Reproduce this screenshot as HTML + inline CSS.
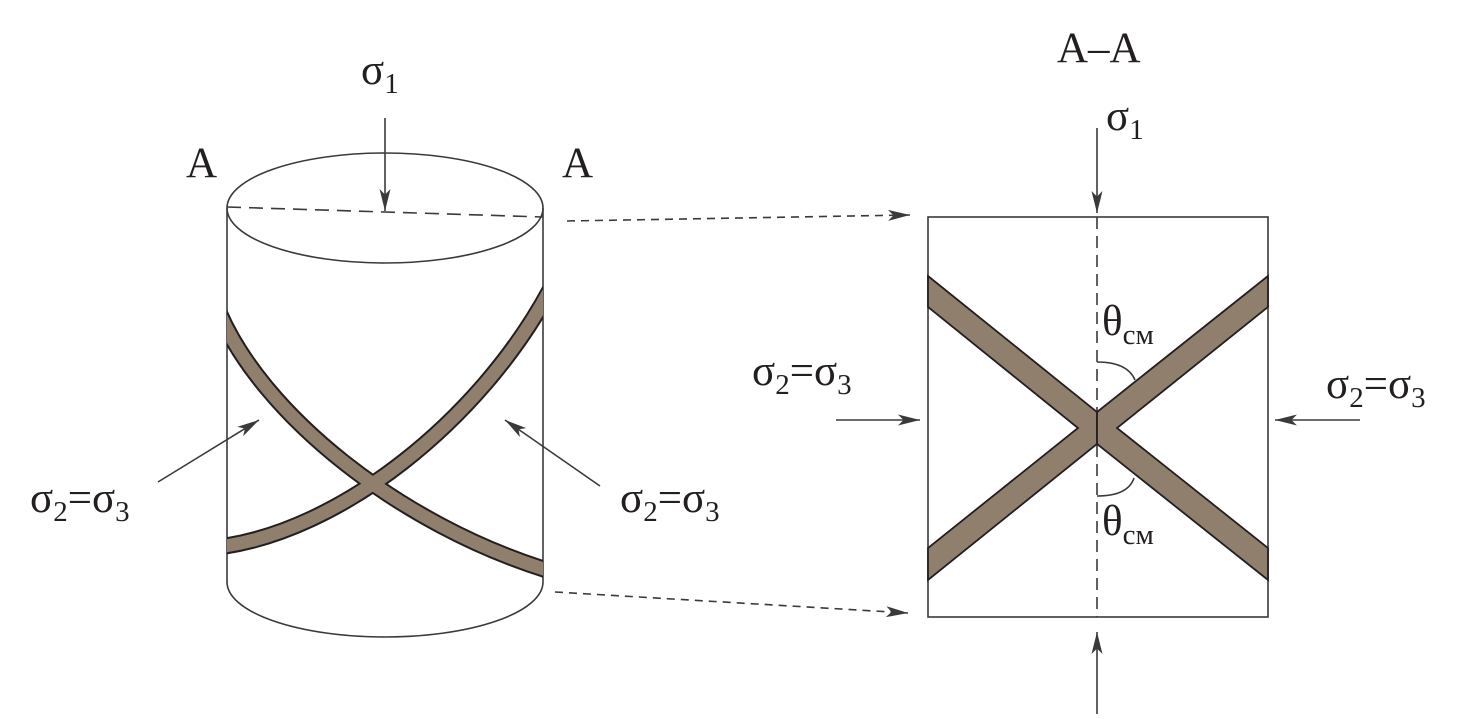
<!DOCTYPE html>
<html><head><meta charset="utf-8"><style>
html,body{margin:0;padding:0;background:#fff;}
svg{display:block;}
text{font-family:"Liberation Serif",serif;fill:#231f20;}
</style></head><body>
<svg width="1465" height="719" viewBox="0 0 1465 719" xmlns="http://www.w3.org/2000/svg">
<defs>
<marker id="ah" viewBox="0 0 20 10" refX="20" refY="5" markerWidth="22" markerHeight="11" markerUnits="userSpaceOnUse" orient="auto">
<path d="M0,0 L20,5 L0,10 L5,5 Z" fill="#3a3a3a"/>
</marker>
<clipPath id="cyl"><rect x="227" y="200" width="316" height="400"/></clipPath>
</defs>
<g stroke="#3a3a3a" stroke-width="1.6" fill="none">
<ellipse cx="385" cy="208" rx="158" ry="55" fill="#fff"/>
<line x1="227" y1="208" x2="227" y2="582"/>
<line x1="543" y1="208" x2="543" y2="582"/>
<path d="M227,582 A158,55 0 0 0 543,582"/>
<line x1="227" y1="207" x2="543" y2="217" stroke-dasharray="14,8"/>
</g>
<g clip-path="url(#cyl)" fill="none">
<path d="M218,310 C262,415 400,525 550,571" stroke="#231f20" stroke-width="17"/>
<path d="M218,547 C340,532 480,420 550,290" stroke="#231f20" stroke-width="17"/>
<path d="M218,310 C262,415 400,525 550,571" stroke="#8f7f6c" stroke-width="13"/>
<path d="M218,547 C340,532 480,420 550,290" stroke="#8f7f6c" stroke-width="13"/>
</g>
<g stroke="#3a3a3a" stroke-width="1.6" fill="none">
<line x1="385" y1="118" x2="385" y2="211" marker-end="url(#ah)"/>
<line x1="158" y1="482" x2="259" y2="420" marker-end="url(#ah)"/>
<line x1="600" y1="486" x2="505" y2="420" marker-end="url(#ah)"/>
<line x1="567" y1="221" x2="910" y2="215" stroke-dasharray="8,6" marker-end="url(#ah)"/>
<line x1="555" y1="592" x2="908" y2="613" stroke-dasharray="8,6" marker-end="url(#ah)"/>
<rect x="928" y="217" width="340" height="400" fill="#fff"/>
<line x1="1097" y1="217" x2="1097" y2="617" stroke-dasharray="12,7"/>
<line x1="1097" y1="128" x2="1097" y2="213" marker-end="url(#ah)"/>
<line x1="1097" y1="714" x2="1097" y2="632" marker-end="url(#ah)"/>
<line x1="836" y1="420" x2="920" y2="420" marker-end="url(#ah)"/>
<line x1="1360" y1="420" x2="1275" y2="420" marker-end="url(#ah)"/>
<path d="M1097,362 C1118,362 1130,368 1135,380"/>
<path d="M1097,496 C1118,496 1130,490 1134,478"/>
</g>
<g fill="#8f7f6c" stroke="#231f20" stroke-width="1.8" stroke-linejoin="miter">
<polygon points="928,276 1097,412 1097,444 928,580 928,548 1078,428 928,307"/>
<polygon points="1268,276 1097,412 1097,444 1268,580 1268,548 1117,428 1268,307"/>
</g>
<g font-size="43">
<text x="361" y="84">σ<tspan font-size="29" dy="9">1</tspan></text>
<text x="186" y="177">A</text>
<text x="562" y="177">A</text>
<text x="30" y="512">σ<tspan font-size="29" dy="9">2</tspan><tspan dy="-9">=σ</tspan><tspan font-size="29" dy="9">3</tspan></text>
<text x="620" y="512">σ<tspan font-size="29" dy="9">2</tspan><tspan dy="-9">=σ</tspan><tspan font-size="29" dy="9">3</tspan></text>
<text x="752" y="385">σ<tspan font-size="29" dy="9">2</tspan><tspan dy="-9">=σ</tspan><tspan font-size="29" dy="9">3</tspan></text>
<text x="1326" y="398">σ<tspan font-size="29" dy="9">2</tspan><tspan dy="-9">=σ</tspan><tspan font-size="29" dy="9">3</tspan></text>
<text x="1057" y="62">A–A</text>
<text x="1106" y="130">σ<tspan font-size="29" dy="9">1</tspan></text>
<text x="1102" y="335">θ<tspan font-size="29" dy="9">см</tspan></text>
<text x="1102" y="535">θ<tspan font-size="29" dy="9">см</tspan></text>
</g>
</svg>
</body></html>
